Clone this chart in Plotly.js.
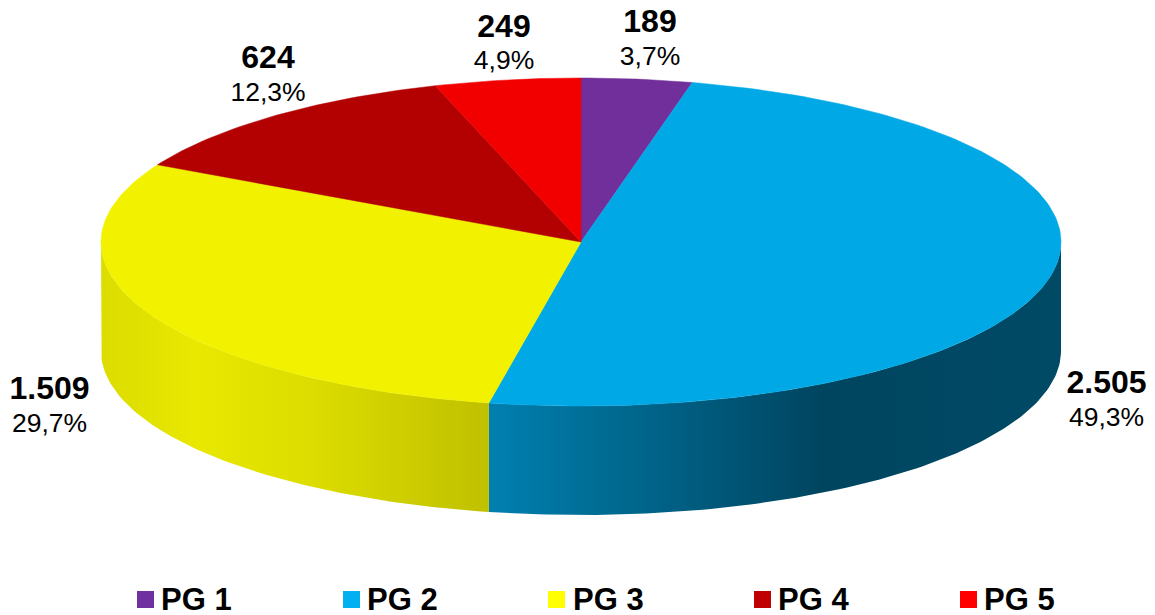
<!DOCTYPE html>
<html>
<head>
<meta charset="utf-8">
<script src="https://cdn.plot.ly/plotly-3.0.1.min.js"></script>
<style>html,body{margin:0;padding:0;background:#fff}#c{width:1155px;height:615px}</style>
</head>
<body>
<div id="c"></div>
<script>
const categories = ['PG 1', 'PG 2', 'PG 3', 'PG 4', 'PG 5'];
const values = [189, 2505, 1509, 624, 249];
const valueLabels = ['189', '2.505', '1.509', '624', '249'];
const percentLabels = ['3,7%', '49,3%', '29,7%', '12,3%', '4,9%'];
const topColors = ['#702f9a', '#00a9e6', '#f2f200', '#b30000', '#f20000'];
const legendColors = ['#7030a0', '#00b0f0', '#ffff00', '#c00000', '#ff0000'];
const labelX = [650, 1106.5, 49.5, 268, 504];
const valueY = [24, 385, 391, 60, 29];
const percentY = [58, 419, 425, 94, 62];
const legendKeyX = [145.5, 351.5, 556.5, 762.5, 968.5];
const legendTextX = [161, 367, 573, 778, 984];
const legendY = 602;
const wallScales = {
  1: [[0, '#0080b0'], [0.2, '#006c94'], [0.58, '#004560'], [1, '#004a66']],
  2: [[0, '#dcdc00'], [0.25, '#e8e800'], [0.55, '#dcdc00'], [1, '#c0c000']]
};

const cx = 581, cy = 242, rx = 480, ry = 164, depth = 109;
const total = values.reduce((a, b) => a + b, 0);
const px = a => cx + rx * Math.sin(a * Math.PI / 180);
const py = a => cy - ry * Math.cos(a * Math.PI / 180);

function arc(a0, a1) {
  const out = [];
  const n = Math.max(2, Math.ceil(Math.abs(a1 - a0)));
  for (let i = 0; i <= n; i++) out.push(a0 + (a1 - a0) * i / n);
  return out;
}

const wallTraces = [], topTraces = [];
let acc = 0;
values.forEach((v, i) => {
  const a0 = acc / total * 360, a1 = (acc + v) / total * 360;
  acc += v;
  const w0 = Math.max(a0, 90), w1 = Math.min(a1, 270);
  if (wallScales[i] && w1 > w0) {
    const as = arc(w0, w1);
    const rev = as.slice().reverse();
    wallTraces.push({
      type: 'scatter', mode: 'lines', hoverinfo: 'skip', showlegend: false,
      x: as.map(px).concat(rev.map(px)),
      y: as.map(py).concat(rev.map(a => py(a) + depth)),
      fill: 'toself', line: {width: 0},
      fillgradient: {type: 'horizontal', colorscale: wallScales[i]}
    });
  }
  const as = arc(a0, a1);
  topTraces.push({
    type: 'scatter', mode: 'lines', hoverinfo: 'skip', showlegend: false,
    x: [cx].concat(as.map(px), [cx]),
    y: [cy].concat(as.map(py), [cy]),
    fill: 'toself', fillcolor: topColors[i],
    line: {width: 0.5, color: topColors[i]}
  });
});

const legendKeys = {
  type: 'scatter', mode: 'markers', hoverinfo: 'skip', showlegend: false,
  x: legendKeyX, y: legendKeyX.map(() => 599.5),
  marker: {symbol: 'square', size: 17, color: legendColors, line: {width: 0}}
};
const legendText = {
  type: 'scatter', mode: 'text', hoverinfo: 'skip', showlegend: false,
  x: legendTextX, y: legendKeyX.map(() => legendY), text: categories, textposition: 'middle right',
  textfont: {family: 'Liberation Sans, Arial, sans-serif', size: 31, weight: 'bold', color: '#000'}
};
const valueText = {
  type: 'scatter', mode: 'text', hoverinfo: 'skip', showlegend: false,
  x: labelX, y: valueY, text: valueLabels, textposition: 'middle center',
  textfont: {family: 'Liberation Sans, Arial, sans-serif', size: 32, weight: 'bold', color: '#000'}
};
const percentText = {
  type: 'scatter', mode: 'text', hoverinfo: 'skip', showlegend: false,
  x: labelX, y: percentY, text: percentLabels, textposition: 'middle center',
  textfont: {family: 'Liberation Sans, Arial, sans-serif', size: 26.5, color: '#000'}
};

const layout = {
  width: 1155, height: 615,
  margin: {l: 0, r: 0, t: 0, b: 0},
  paper_bgcolor: '#fff', plot_bgcolor: '#fff',
  xaxis: {range: [0, 1155], visible: false, fixedrange: true},
  yaxis: {range: [615, 0], visible: false, fixedrange: true},
  showlegend: false
};

Plotly.newPlot('c', wallTraces.concat(topTraces, [legendKeys, legendText, valueText, percentText]), layout,
  {displayModeBar: false, staticPlot: true});
</script>
</body>
</html>
